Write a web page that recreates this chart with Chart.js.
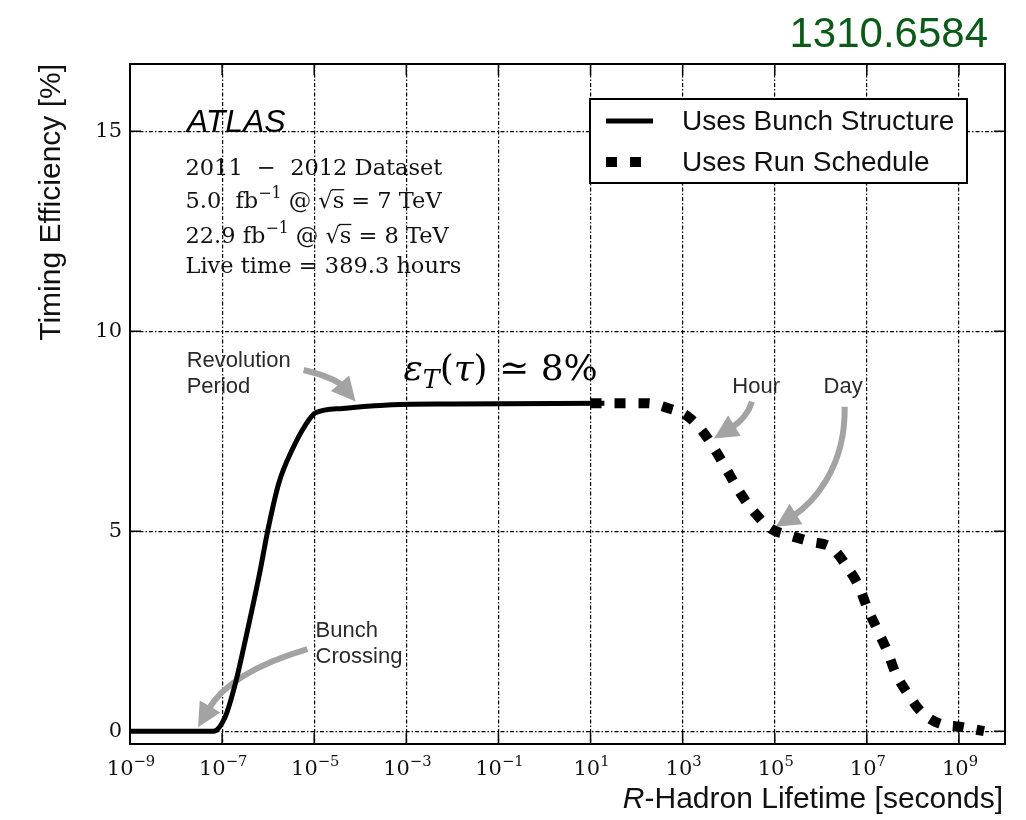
<!DOCTYPE html>
<html>
<head>
<meta charset="utf-8">
<title>R-Hadron timing efficiency</title>
<script src="https://cdn.jsdelivr.net/npm/chart.js@4.4.1/dist/chart.umd.min.js"></script>
<style>
  html, body { margin: 0; padding: 0; background: #fff; }
  canvas { display: block; }
</style>
</head>
<body>
<canvas id="chart" width="1026" height="820"></canvas>
<script>
// data: lifetime in seconds, timing efficiency in %
const bunchLifetime = [1e-9, 6.5e-8, 1.17e-7, 1.95e-7, 3.2e-7, 6.3e-7, 1.02e-6, 1.7e-6, 3.3e-6, 6.5e-6, 1.07e-5, 4.1e-5, 4.9e-4, 1e-2, 20];
const bunchEff = [0, 0, 0.36, 1.2, 2.28, 3.86, 5.11, 6.2, 7.03, 7.66, 7.96, 8.07, 8.16, 8.18, 8.2];
const runLifetime = [10, 170, 470, 1260, 2900, 5600, 1.0e4, 1.8e4, 3.5e4, 8.1e4, 2.0e5, 6.0e5, 1.8e6, 3.7e6, 6.8e6, 1.0e7, 1.7e7, 2.8e7, 4.2e7, 7.6e7, 1.5e8, 3.6e8, 1.1e9, 3.5e9];
const runEff = [8.2, 8.2, 8.08, 7.88, 7.45, 6.95, 6.45, 5.95, 5.49, 5.07, 4.9, 4.74, 4.57, 4.11, 3.61, 3.11, 2.53, 1.99, 1.45, 0.95, 0.49, 0.2, 0.11, 0.0];
const seriesLabels = ['Uses Bunch Structure', 'Uses Run Schedule'];
const xTicks = [1e-9, 1e-7, 1e-5, 1e-3, 1e-1, 1e1, 1e3, 1e5, 1e7, 1e9];
const yTicks = [0, 5, 10, 15];

// annotations, placed in [lifetime, efficiency]
const arrowPaths = [
  [[5.9e-6, 9.03], [2.9e-5, 8.83], [7.9e-5, 8.24]],               // Revolution Period
  [[7.1e-6, 2.05], [1.5e-7, 1.48], [3.0e-8, 0.1]],                // Bunch Crossing
  [[3.2e4, 8.24], [2.5e4, 7.83], [4.8e3, 7.32]],                  // Hour
  [[3.3e6, 8.11], [3.5e6, 6.53], [6.0e5, 5.66], [1.05e5, 5.11]]   // Day
];
const notes = [
  { lines: ['Revolution', 'Period'], at: [1.7e-8, 9.11] },
  { lines: ['Bunch', 'Crossing'], at: [1.07e-5, 2.36] },
  { lines: ['Hour'], at: [1.2e4, 8.46] },
  { lines: ['Day'], at: [1.15e6, 8.46] }
];
const atlasAt = [1.7e-8, 14.99];
const infoX = 1.6e-8;
const infoY = [13.9, 13.07, 12.2, 11.45];
const infoLines = [
  [{ t: '2011  \u2212  2012 Dataset' }],
  [{ t: '5.0  fb' }, { t: '\u22121', sup: true }, { t: ' @ ' }, { t: '\u221a' }, { t: 's', over: true }, { t: ' = 7 TeV' }],
  [{ t: '22.9 fb' }, { t: '\u22121', sup: true }, { t: ' @ ' }, { t: '\u221a' }, { t: 's', over: true }, { t: ' = 8 TeV' }],
  [{ t: 'Live time = 389.3 hours' }]
];
const mathAt = [8.7e-4, 8.78];
const mathRuns = [
  { t: '\u03b5', italic: true }, { t: 'T', italic: true, sub: true }, { t: '(' }, { t: '\u03c4', italic: true },
  { t: ')' }, { t: ' \u2243 ' }, { t: '8%' }
];

const SANS = '"Liberation Sans", Arial, Helvetica, sans-serif';
const SERIF = '"DejaVu Serif", "Liberation Serif", serif';

// tick label helpers
const expOf = (v) => Math.round(Math.log10(v));
const powRuns = (v) => [{ t: '10' }, { t: String(expOf(v)).replace('-', '\u2212'), sup: true }];

const runFont = (r, size, family) =>
  (r.italic ? 'italic ' : '') + ((r.sup || r.sub) ? size * 0.7 : size) + 'px ' + family;

function runsWidth(ctx, runs, size, family) {
  return runs.reduce((w, r) => {
    ctx.font = runFont(r, size, family);
    return w + ctx.measureText(r.t).width;
  }, 0);
}

// draw a row of text pieces (super/subscripts, overlines)
function drawRuns(ctx, x, y, runs, size, family, color) {
  let cx = x;
  ctx.fillStyle = color;
  ctx.textAlign = 'left';
  ctx.textBaseline = 'alphabetic';
  runs.forEach(r => {
    ctx.font = runFont(r, size, family);
    const dy = r.sup ? -size * 0.45 : r.sub ? size * 0.22 : 0;
    ctx.fillText(r.t, cx, y + dy);
    const w = ctx.measureText(r.t).width;
    if (r.over) {
      ctx.fillRect(cx - 1, y - size * 0.86, w + 1, 1.3);
    }
    cx += w;
  });
  return cx - x;
}

// gray curved arrow with a triangular head
function drawArrow(ctx, pts) {
  const tip = pts[pts.length - 1];
  const prev = pts[pts.length - 2];
  const ang = Math.atan2(tip.y - prev.y, tip.x - prev.x);
  const headLen = 24, headHalf = 12;
  const bx = tip.x - Math.cos(ang) * headLen * 0.85;
  const by = tip.y - Math.sin(ang) * headLen * 0.85;
  ctx.strokeStyle = '#a3a3a3';
  ctx.fillStyle = '#a3a3a3';
  ctx.lineWidth = 6;
  ctx.lineCap = 'butt';
  ctx.setLineDash([]);
  ctx.beginPath();
  ctx.moveTo(pts[0].x, pts[0].y);
  if (pts.length === 3) {
    ctx.quadraticCurveTo(pts[1].x, pts[1].y, bx, by);
  } else {
    ctx.bezierCurveTo(pts[1].x, pts[1].y, pts[2].x, pts[2].y, bx, by);
  }
  ctx.stroke();
  const hx = tip.x - Math.cos(ang) * headLen;
  const hy = tip.y - Math.sin(ang) * headLen;
  ctx.beginPath();
  ctx.moveTo(tip.x, tip.y);
  ctx.lineTo(hx + Math.sin(ang) * headHalf, hy - Math.cos(ang) * headHalf);
  ctx.lineTo(hx - Math.sin(ang) * headHalf, hy + Math.cos(ang) * headHalf);
  ctx.closePath();
  ctx.fill();
}

function drawLegend(chart) {
  const { ctx, chartArea } = chart;
  const w = 377, h = 84;
  const left = chartArea.right - 38 - w;
  const top = chartArea.top + 35;
  ctx.fillStyle = '#fff';
  ctx.fillRect(left, top, w, h);
  ctx.strokeStyle = '#000';
  ctx.lineWidth = 2;
  ctx.setLineDash([]);
  ctx.strokeRect(left, top, w, h);
  chart.data.datasets.forEach((ds, i) => {
    const yy = top + 22 + i * 41;
    ctx.beginPath();
    ctx.setLineDash(ds.borderDash || []);
    ctx.lineWidth = ds.borderWidth;
    ctx.strokeStyle = ds.borderColor;
    ctx.lineCap = 'butt';
    ctx.moveTo(left + 16, yy);
    ctx.lineTo(left + 63, yy);
    ctx.stroke();
    ctx.setLineDash([]);
    ctx.font = '28px ' + SANS;
    ctx.fillStyle = '#111';
    ctx.textAlign = 'left';
    ctx.textBaseline = 'middle';
    ctx.fillText(ds.label, left + 92, yy + 1);
  });
}

const decorations = {
  id: 'decorations',
  beforeDatasetsDraw(chart) {
    const { ctx, scales: { x, y } } = chart;
    const px = (p) => ({ x: x.getPixelForValue(p[0]), y: y.getPixelForValue(p[1]) });
    ctx.save();
    arrowPaths.forEach(path => drawArrow(ctx, path.map(px)));

    // annotation labels
    ctx.font = '22px ' + SANS;
    ctx.fillStyle = '#2a2a2a';
    ctx.textAlign = 'left';
    ctx.textBaseline = 'alphabetic';
    notes.forEach(n => {
      const p = px(n.at);
      n.lines.forEach((line, i) => ctx.fillText(line, p.x, p.y + i * 26));
    });

    // experiment block
    const a = px(atlasAt);
    ctx.font = 'italic 32px ' + SANS;
    ctx.fillStyle = '#000';
    ctx.fillText('ATLAS', a.x, a.y);
    infoLines.forEach((runs, i) => {
      const p = px([infoX, infoY[i]]);
      drawRuns(ctx, p.x, p.y, runs, 22.5, SERIF, '#111');
    });
    const m = px(mathAt);
    drawRuns(ctx, m.x, m.y, mathRuns, 36, SERIF, '#000');
    ctx.restore();
  },
  afterDraw(chart) {
    const { ctx, chartArea: { left, right, top, bottom }, scales: { x, y } } = chart;
    ctx.save();
    // frame + inward ticks
    ctx.strokeStyle = '#000';
    ctx.lineWidth = 2;
    ctx.setLineDash([]);
    ctx.strokeRect(left, top, right - left, bottom - top);
    ctx.lineWidth = 1.5;
    ctx.beginPath();
    xTicks.forEach(v => {
      const p = x.getPixelForValue(v);
      ctx.moveTo(p, bottom); ctx.lineTo(p, bottom - 11);
      ctx.moveTo(p, top); ctx.lineTo(p, top + 11);
    });
    yTicks.forEach(v => {
      const p = y.getPixelForValue(v);
      ctx.moveTo(left, p); ctx.lineTo(left + 11, p);
      ctx.moveTo(right, p); ctx.lineTo(right - 11, p);
    });
    ctx.stroke();

    // x tick labels as 10 with raised exponent
    x.ticks.forEach(t => {
      const runs = powRuns(t.value);
      const w = runsWidth(ctx, runs, 21, SERIF);
      drawRuns(ctx, x.getPixelForValue(t.value) - w / 2 + 1, bottom + 31, runs, 21, SERIF, '#111');
    });

    drawLegend(chart);

    // x axis title, with italic R
    const rest = '-Hadron Lifetime [seconds]';
    ctx.textAlign = 'left';
    ctx.textBaseline = 'alphabetic';
    ctx.fillStyle = '#111';
    ctx.font = '30px ' + SANS;
    const wRest = ctx.measureText(rest).width;
    ctx.font = 'italic 30px ' + SANS;
    const wR = ctx.measureText('R').width;
    const sx = right - 2 - wRest - wR;
    ctx.fillText('R', sx, bottom + 64);
    ctx.font = '30px ' + SANS;
    ctx.fillText(rest, sx + wR, bottom + 64);

    // arXiv number
    ctx.font = '42px ' + SANS;
    ctx.fillStyle = '#0b5a17';
    ctx.textAlign = 'right';
    ctx.fillText('1310.6584', 988, 47);
    ctx.restore();
  }
};

const gridDash = [4, 2, 1.5, 2];

const chart = new Chart(document.getElementById('chart'), {
  type: 'line',
  data: {
    datasets: [
      {
        label: seriesLabels[0],
        data: bunchLifetime.map((v, i) => ({ x: v, y: bunchEff[i] })),
        borderColor: '#000',
        borderWidth: 5,
        pointRadius: 0,
        fill: false,
        cubicInterpolationMode: 'monotone'
      },
      {
        label: seriesLabels[1],
        data: runLifetime.map((v, i) => ({ x: v, y: runEff[i] })),
        borderColor: '#000',
        borderWidth: 10,
        borderDash: [11, 13],
        borderCapStyle: 'butt',
        pointRadius: 0,
        fill: false,
        cubicInterpolationMode: 'monotone'
      }
    ]
  },
  options: {
    responsive: false,
    animation: false,
    devicePixelRatio: 1,
    layout: { padding: { top: 64, right: 21, left: 0, bottom: 0 } },
    plugins: {
      legend: { display: false },
      tooltip: { enabled: false }
    },
    scales: {
      x: {
        type: 'logarithmic',
        min: 1e-9,
        max: 1e10,
        afterBuildTicks: (scale) => { scale.ticks = xTicks.map(v => ({ value: v })); },
        afterFit: (scale) => { scale.height = 76; },
        ticks: {
          display: false,
          callback: (v) => '10^' + expOf(v),
          autoSkip: false
        },
        grid: { drawTicks: false, color: '#000', lineWidth: 1.2 },
        border: { display: false, dash: gridDash }
      },
      y: {
        min: -0.32,
        max: 16.68,
        afterBuildTicks: (scale) => { scale.ticks = yTicks.map(v => ({ value: v })); },
        afterFit: (scale) => { scale.width = 130; },
        ticks: {
          font: { family: SERIF, size: 21 },
          color: '#111',
          padding: 8
        },
        grid: { drawTicks: false, color: '#000', lineWidth: 1.2 },
        border: { display: false, dash: gridDash },
        title: {
          display: true,
          text: 'Timing Efficiency [%]',
          align: 'end',
          color: '#111',
          font: { family: SANS, size: 30 },
          padding: { top: 34, bottom: 0 }
        }
      }
    }
  },
  plugins: [decorations]
});
</script>
</body>
</html>
